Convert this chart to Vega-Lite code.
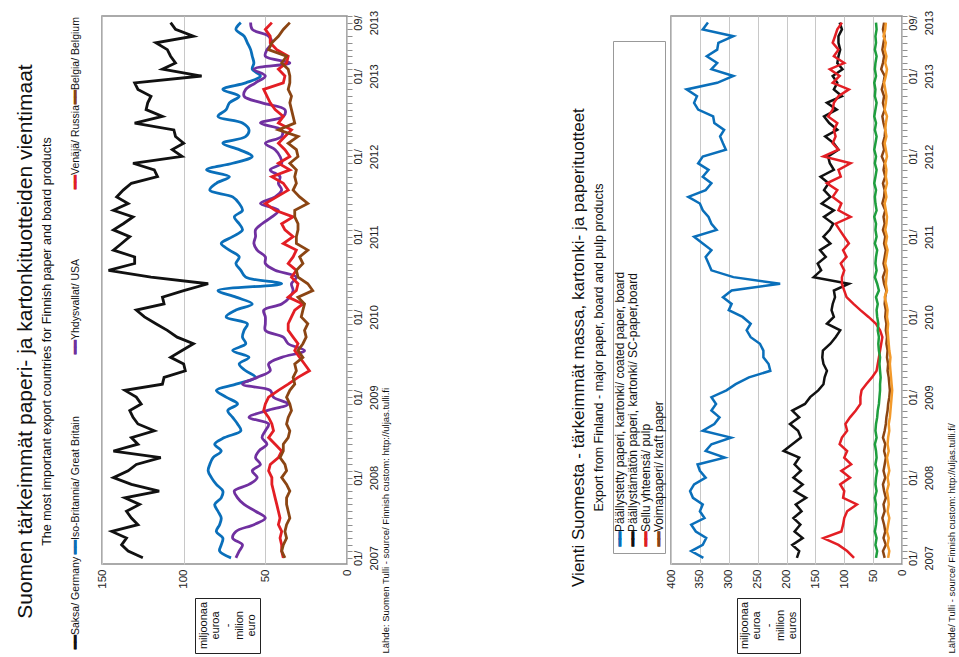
{
"$schema": "https://vega.github.io/schema/vega-lite/v6.json",
"background": "white",
"padding": {"left": 14, "top": 9, "right": 5, "bottom": 2},
"config": {"font": "Liberation Sans", "view": {"stroke": null}, "title": {"fontWeight": "normal", "color": "#111111", "subtitleColor": "#111111", "font": "Liberation Sans", "subtitleFont": "Liberation Sans"}, "axis": {"labelFont": "Liberation Sans", "labelColor": "#222222"}},
"resolve": {"scale": {"color": "independent", "stroke": "independent"}},
"spacing": 178,
"hconcat": [
{
"title": {"text": "Suomen tärkeimmät paperi- ja kartonkituotteiden vientimaat", "subtitle": "The most important export countries for Finnish paper and board products", "orient": "left", "anchor": "middle", "fontSize": 21, "subtitleFontSize": 12.5, "subtitlePadding": 5, "offset": 8, "dx": -10},
"spacing": 4,
"hconcat": [
 {"spacing": 0, "vconcat": [
  {"width": 30, "height": 88, "data": {"values": [{}]}, "layer": [
   {"mark": {"type": "text", "angle": 270, "align": "left", "baseline": "middle", "fontSize": 10.5, "color": "#111111"}, "encoding": {"y": {"value": "height"}, "text": {"value": "━━Belgia/ Belgium"}}},
   {"mark": {"type": "text", "angle": 270, "align": "left", "baseline": "middle", "fontSize": 10.5, "color": "#8b4513", "stroke": "#8b4513", "strokeWidth": 1}, "encoding": {"y": {"value": "height"}, "text": {"value": "━━"}}}]},
  {"width": 30, "height": 85, "data": {"values": [{}]}, "layer": [
   {"mark": {"type": "text", "angle": 270, "align": "left", "baseline": "middle", "fontSize": 10.5, "color": "#111111"}, "encoding": {"y": {"value": "height"}, "text": {"value": "━━Venäjä/ Russia"}}},
   {"mark": {"type": "text", "angle": 270, "align": "left", "baseline": "middle", "fontSize": 10.5, "color": "#e31e24", "stroke": "#e31e24", "strokeWidth": 1}, "encoding": {"y": {"value": "height"}, "text": {"value": "━━"}}}]},
  {"width": 30, "height": 165, "data": {"values": [{}]}, "layer": [
   {"mark": {"type": "text", "angle": 270, "align": "left", "baseline": "middle", "fontSize": 10.5, "color": "#111111"}, "encoding": {"y": {"value": "height"}, "text": {"value": "━━Yhdysvallat/ USA"}}},
   {"mark": {"type": "text", "angle": 270, "align": "left", "baseline": "middle", "fontSize": 10.5, "color": "#7030a0", "stroke": "#7030a0", "strokeWidth": 1}, "encoding": {"y": {"value": "height"}, "text": {"value": "━━"}}}]},
  {"width": 30, "height": 200, "data": {"values": [{}]}, "layer": [
   {"mark": {"type": "text", "angle": 270, "align": "left", "baseline": "middle", "fontSize": 10.5, "color": "#111111"}, "encoding": {"y": {"value": "height"}, "text": {"value": "━━Iso-Britannia/ Great Britain"}}},
   {"mark": {"type": "text", "angle": 270, "align": "left", "baseline": "middle", "fontSize": 10.5, "color": "#0a6fba", "stroke": "#0a6fba", "strokeWidth": 1}, "encoding": {"y": {"value": "height"}, "text": {"value": "━━"}}}]},
  {"width": 30, "height": 95, "data": {"values": [{}]}, "layer": [
   {"mark": {"type": "text", "angle": 270, "align": "left", "baseline": "middle", "fontSize": 10.5, "color": "#111111"}, "encoding": {"y": {"value": "height"}, "text": {"value": "━━Saksa/ Germany"}}},
   {"mark": {"type": "text", "angle": 270, "align": "left", "baseline": "middle", "fontSize": 10.5, "color": "#111111", "stroke": "#111111", "strokeWidth": 1}, "encoding": {"y": {"value": "height"}, "text": {"value": "━━"}}}]}
 ]},
 {"spacing": 8,
  "title": {"text": "Lähde: Suomen Tulli - source/ Finnish custom: http://uljas.tulli.fi", "orient": "right", "angle": 270, "anchor": "end", "align": "left", "baseline": "top", "fontSize": 9.5, "offset": -8},
  "vconcat": [
  {"width": 245, "height": 548, "view": {"stroke": "#8f8f8f", "strokeWidth": 1.5}, "data": {"name": "left"},
   "encoding": {
    "y": {"field": "t", "type": "temporal", "scale": {"domain": [{"year": 2006, "month": 12, "date": 4}, {"year": 2013, "month": 10, "date": 1}]},
      "axis": {"orient": "right", "title": null, "tickCount": {"interval": "month", "step": 1}, "labelExpr": "(month(datum.value)==0 || (year(datum.value)==2013 && month(datum.value)==8)) ? [timeFormat(datum.value,'%m/'), timeFormat(datum.value,'%Y')] : ''", "labelAngle": 270, "labelAlign": "center", "labelBaseline": "top", "labelOverlap": false, "labelFlush": false, "labelBound": false, "labelPadding": 0, "tickSize": 5, "tickColor": "#8f8f8f", "domain": false, "grid": false, "labelFontSize": 11, "labelLineHeight": 16}},
    "x": {"field": "v", "type": "quantitative", "scale": {"domain": [0, 150], "reverse": true, "nice": false, "zero": false},
      "axis": {"orient": "bottom", "title": null, "values": [0, 50, 100, 150], "labelAngle": 270, "labelAlign": "right", "labelBaseline": "middle", "ticks": false, "domain": false, "grid": true, "gridColor": "#c8c8c8", "labelFontSize": 11.5, "labelPadding": 5, "labelFlush": false}},
    "color": {"field": "s", "type": "nominal", "scale": {"domain": ["de", "gb", "us", "ru", "be"], "range": ["#111111", "#0a6fba", "#7030a0", "#e31e24", "#8b4513"]}, "legend": null},
    "order": {"field": "t", "type": "temporal"}},
   "layer": [
    {"transform": [{"filter": "datum.s=='de'"}], "mark": {"type": "line", "strokeWidth": 2.8}},
    {"transform": [{"filter": "datum.s=='gb' || datum.s=='us'"}], "mark": {"type": "line", "strokeWidth": 2.8, "interpolate": "catmull-rom"}},
    {"transform": [{"filter": "datum.s=='ru' || datum.s=='be'"}], "mark": {"type": "line", "strokeWidth": 2.8}}
   ]},
  {"spacing": 0, "hconcat": [
   {"width": 92, "height": 55, "data": {"values": [{}]}, "mark": {"type": "text"}, "encoding": {"text": {"value": ""}}},
   {"width": 65, "height": 55, "view": {"stroke": "#222222", "strokeWidth": 1}, "data": {"values": [{}]}, "mark": {"type": "text", "angle": 270, "align": "center", "baseline": "middle", "fontSize": 11, "lineHeight": 12, "dy": -24, "color": "#111111"}, "encoding": {"text": {"value": ["miljoonaa", "euroa", "-", "milion", "euro"]}}}
  ]}
 ]}
]
},
{
"title": {"text": "Vienti Suomesta - tärkeimmät massa, kartonki- ja paperituotteet", "subtitle": "Export from Finland - major paper, board and pulp products", "orient": "left", "anchor": "middle", "fontSize": 17, "subtitleFontSize": 12.5, "subtitlePadding": 5, "offset": 6, "dx": -16},
"spacing": -2,
"hconcat": [
 {"spacing": 18, "vconcat": [
  {"width": 52, "height": 1, "data": {"values": [{}]}, "mark": {"type": "text"}, "encoding": {"text": {"value": ""}}},
  {"width": 52, "height": 512, "view": {"stroke": "#999999", "strokeWidth": 1},
   "data": {"values": [{"s": "coated", "label": "Päällystetty paperi, kartonki/ coated paper, board"}, {"s": "uncoated", "label": "Päällystämätön paperi, kartonki/ SC-paper,board"}, {"s": "pulp", "label": "Sellu yhteensä/ pulp"}, {"s": "kraft", "label": "Voimapaperi/ kraft paper"}]},
   "encoding": {"x": {"field": "s", "type": "nominal", "sort": null, "scale": {"type": "point", "domain": ["coated", "uncoated", "pulp", "kraft"], "padding": 0.5}, "axis": null}, "y": {"value": "height"}},
   "layer": [
    {"transform": [{"calculate": "'━━' + datum.label", "as": "txt"}], "mark": {"type": "text", "angle": 270, "align": "left", "baseline": "middle", "fontSize": 12, "dx": 7, "color": "#111111"}, "encoding": {"text": {"field": "txt"}}},
    {"mark": {"type": "text", "angle": 270, "align": "left", "baseline": "middle", "fontSize": 12, "dx": 7, "strokeWidth": 1}, "encoding": {"text": {"value": "━━"},
      "color": {"field": "s", "type": "nominal", "scale": {"domain": ["coated", "uncoated", "pulp", "other1", "other2", "kraft"], "range": ["#0a6fba", "#111111", "#e31e24", "#1e9e3e", "#f39a2b", "#8b4513"]}, "legend": null},
      "stroke": {"field": "s", "type": "nominal", "scale": {"domain": ["coated", "uncoated", "pulp", "other1", "other2", "kraft"], "range": ["#0a6fba", "#111111", "#e31e24", "#1e9e3e", "#f39a2b", "#8b4513"]}, "legend": null}}}
   ]}
 ]},
 {"spacing": 8,
  "title": {"text": "Lähde/ Tulli - source/ Finnish custom: http://uljas.tulli.fi/", "orient": "right", "angle": 270, "anchor": "end", "align": "left", "baseline": "top", "fontSize": 9.5, "offset": 3},
  "vconcat": [
  {"width": 231, "height": 548, "view": {"stroke": "#8f8f8f", "strokeWidth": 1.5}, "data": {"name": "right"},
   "encoding": {
    "y": {"field": "t", "type": "temporal", "scale": {"domain": [{"year": 2006, "month": 12, "date": 4}, {"year": 2013, "month": 10, "date": 1}]},
      "axis": {"orient": "right", "title": null, "tickCount": {"interval": "month", "step": 1}, "labelExpr": "(month(datum.value)==0 || (year(datum.value)==2013 && month(datum.value)==8)) ? [timeFormat(datum.value,'%m/'), timeFormat(datum.value,'%Y')] : ''", "labelAngle": 270, "labelAlign": "center", "labelBaseline": "top", "labelOverlap": false, "labelFlush": false, "labelBound": false, "labelPadding": 0, "tickSize": 5, "tickColor": "#8f8f8f", "domain": false, "grid": false, "labelFontSize": 11, "labelLineHeight": 16}},
    "x": {"field": "v", "type": "quantitative", "scale": {"domain": [0, 400], "reverse": true, "nice": false, "zero": false},
      "axis": {"orient": "bottom", "title": null, "values": [0, 50, 100, 150, 200, 250, 300, 350, 400], "labelAngle": 270, "labelAlign": "right", "labelBaseline": "middle", "ticks": false, "domain": false, "grid": true, "gridColor": "#c8c8c8", "labelFontSize": 11.5, "labelPadding": 5, "labelFlush": false}},
    "color": {"field": "s", "type": "nominal", "scale": {"domain": ["coated", "uncoated", "pulp", "other1", "other2", "kraft"], "range": ["#0a6fba", "#111111", "#e31e24", "#1e9e3e", "#f39a2b", "#8b4513"]}, "legend": null},
    "order": {"field": "t", "type": "temporal"}},
   "layer": [
    {"mark": {"type": "line", "strokeWidth": 2.5}}
   ]},
  {"spacing": 0, "hconcat": [
   {"width": 65, "height": 55, "data": {"values": [{}]}, "mark": {"type": "text"}, "encoding": {"text": {"value": ""}}},
   {"width": 63, "height": 55, "view": {"stroke": "#222222", "strokeWidth": 1}, "data": {"values": [{}]}, "mark": {"type": "text", "angle": 270, "align": "center", "baseline": "middle", "fontSize": 11, "lineHeight": 12, "dy": -24, "color": "#111111"}, "encoding": {"text": {"value": ["miljoonaa", "euroa", "-", "million", "euros"]}}}
  ]}
 ]}
]
}
],
"datasets": {
"left": [
{"t":"2007-01","s":"de","v":125},{"t":"2007-02","s":"de","v":134},{"t":"2007-03","s":"de","v":138},{"t":"2007-04","s":"de","v":135},{"t":"2007-05","s":"de","v":144},{"t":"2007-06","s":"de","v":128},{"t":"2007-07","s":"de","v":132},{"t":"2007-08","s":"de","v":135},{"t":"2007-09","s":"de","v":127},{"t":"2007-10","s":"de","v":136},{"t":"2007-11","s":"de","v":115},{"t":"2007-12","s":"de","v":132},
{"t":"2008-01","s":"de","v":143},{"t":"2008-02","s":"de","v":134},{"t":"2008-03","s":"de","v":129},{"t":"2008-04","s":"de","v":114},{"t":"2008-05","s":"de","v":143},{"t":"2008-06","s":"de","v":128},{"t":"2008-07","s":"de","v":132},{"t":"2008-08","s":"de","v":118},{"t":"2008-09","s":"de","v":128},{"t":"2008-10","s":"de","v":131},{"t":"2008-11","s":"de","v":133},{"t":"2008-12","s":"de","v":126},
{"t":"2009-01","s":"de","v":129},{"t":"2009-02","s":"de","v":136},{"t":"2009-03","s":"de","v":113},{"t":"2009-04","s":"de","v":112},{"t":"2009-05","s":"de","v":99},{"t":"2009-06","s":"de","v":100},{"t":"2009-07","s":"de","v":108},{"t":"2009-08","s":"de","v":101},{"t":"2009-09","s":"de","v":94},{"t":"2009-10","s":"de","v":104},{"t":"2009-11","s":"de","v":110},{"t":"2009-12","s":"de","v":117},
{"t":"2010-01","s":"de","v":124},{"t":"2010-02","s":"de","v":129},{"t":"2010-03","s":"de","v":112},{"t":"2010-04","s":"de","v":113},{"t":"2010-05","s":"de","v":100},{"t":"2010-06","s":"de","v":85},{"t":"2010-07","s":"de","v":120},{"t":"2010-08","s":"de","v":146},{"t":"2010-09","s":"de","v":130},{"t":"2010-10","s":"de","v":130},{"t":"2010-11","s":"de","v":143},{"t":"2010-12","s":"de","v":138},
{"t":"2011-01","s":"de","v":133},{"t":"2011-02","s":"de","v":143},{"t":"2011-03","s":"de","v":137},{"t":"2011-04","s":"de","v":131},{"t":"2011-05","s":"de","v":143},{"t":"2011-06","s":"de","v":134},{"t":"2011-07","s":"de","v":141},{"t":"2011-08","s":"de","v":137},{"t":"2011-09","s":"de","v":132},{"t":"2011-10","s":"de","v":116},{"t":"2011-11","s":"de","v":118},{"t":"2011-12","s":"de","v":131},
{"t":"2012-01","s":"de","v":101},{"t":"2012-02","s":"de","v":107},{"t":"2012-03","s":"de","v":100},{"t":"2012-04","s":"de","v":105},{"t":"2012-05","s":"de","v":106},{"t":"2012-06","s":"de","v":130},{"t":"2012-07","s":"de","v":113},{"t":"2012-08","s":"de","v":123},{"t":"2012-09","s":"de","v":122},{"t":"2012-10","s":"de","v":120},{"t":"2012-11","s":"de","v":128},{"t":"2012-12","s":"de","v":130},
{"t":"2013-01","s":"de","v":89},{"t":"2013-02","s":"de","v":113},{"t":"2013-03","s":"de","v":105},{"t":"2013-04","s":"de","v":108},{"t":"2013-05","s":"de","v":110},{"t":"2013-06","s":"de","v":117},{"t":"2013-07","s":"de","v":94},{"t":"2013-08","s":"de","v":105},{"t":"2013-09","s":"de","v":108},
{"t":"2007-01","s":"gb","v":71},{"t":"2007-02","s":"gb","v":78},{"t":"2007-03","s":"gb","v":77},{"t":"2007-04","s":"gb","v":76},{"t":"2007-05","s":"gb","v":80},{"t":"2007-06","s":"gb","v":78},{"t":"2007-07","s":"gb","v":77},{"t":"2007-08","s":"gb","v":79},{"t":"2007-09","s":"gb","v":81},{"t":"2007-10","s":"gb","v":77},{"t":"2007-11","s":"gb","v":76},{"t":"2007-12","s":"gb","v":80},
{"t":"2008-01","s":"gb","v":83},{"t":"2008-02","s":"gb","v":85},{"t":"2008-03","s":"gb","v":84},{"t":"2008-04","s":"gb","v":82},{"t":"2008-05","s":"gb","v":77},{"t":"2008-06","s":"gb","v":81},{"t":"2008-07","s":"gb","v":75},{"t":"2008-08","s":"gb","v":65},{"t":"2008-09","s":"gb","v":67},{"t":"2008-10","s":"gb","v":70},{"t":"2008-11","s":"gb","v":73},{"t":"2008-12","s":"gb","v":67},
{"t":"2009-01","s":"gb","v":74},{"t":"2009-02","s":"gb","v":80},{"t":"2009-03","s":"gb","v":68},{"t":"2009-04","s":"gb","v":56},{"t":"2009-05","s":"gb","v":62},{"t":"2009-06","s":"gb","v":66},{"t":"2009-07","s":"gb","v":60},{"t":"2009-08","s":"gb","v":70},{"t":"2009-09","s":"gb","v":62},{"t":"2009-10","s":"gb","v":64},{"t":"2009-11","s":"gb","v":63},{"t":"2009-12","s":"gb","v":61},
{"t":"2010-01","s":"gb","v":74},{"t":"2010-02","s":"gb","v":68},{"t":"2010-03","s":"gb","v":58},{"t":"2010-04","s":"gb","v":68},{"t":"2010-05","s":"gb","v":79},{"t":"2010-06","s":"gb","v":40},{"t":"2010-07","s":"gb","v":62},{"t":"2010-08","s":"gb","v":65},{"t":"2010-09","s":"gb","v":68},{"t":"2010-10","s":"gb","v":66},{"t":"2010-11","s":"gb","v":72},{"t":"2010-12","s":"gb","v":77},
{"t":"2011-01","s":"gb","v":70},{"t":"2011-02","s":"gb","v":64},{"t":"2011-03","s":"gb","v":66},{"t":"2011-04","s":"gb","v":69},{"t":"2011-05","s":"gb","v":64},{"t":"2011-06","s":"gb","v":66},{"t":"2011-07","s":"gb","v":70},{"t":"2011-08","s":"gb","v":84},{"t":"2011-09","s":"gb","v":80},{"t":"2011-10","s":"gb","v":72},{"t":"2011-11","s":"gb","v":86},{"t":"2011-12","s":"gb","v":70},
{"t":"2012-01","s":"gb","v":58},{"t":"2012-02","s":"gb","v":66},{"t":"2012-03","s":"gb","v":76},{"t":"2012-04","s":"gb","v":62},{"t":"2012-05","s":"gb","v":60},{"t":"2012-06","s":"gb","v":64},{"t":"2012-07","s":"gb","v":79},{"t":"2012-08","s":"gb","v":74},{"t":"2012-09","s":"gb","v":72},{"t":"2012-10","s":"gb","v":66},{"t":"2012-11","s":"gb","v":76},{"t":"2012-12","s":"gb","v":62},
{"t":"2013-01","s":"gb","v":53},{"t":"2013-02","s":"gb","v":58},{"t":"2013-03","s":"gb","v":57},{"t":"2013-04","s":"gb","v":58},{"t":"2013-05","s":"gb","v":59},{"t":"2013-06","s":"gb","v":61},{"t":"2013-07","s":"gb","v":63},{"t":"2013-08","s":"gb","v":68},{"t":"2013-09","s":"gb","v":65},
{"t":"2007-01","s":"us","v":68},{"t":"2007-02","s":"us","v":66},{"t":"2007-03","s":"us","v":64},{"t":"2007-04","s":"us","v":70},{"t":"2007-05","s":"us","v":68},{"t":"2007-06","s":"us","v":57},{"t":"2007-07","s":"us","v":50},{"t":"2007-08","s":"us","v":56},{"t":"2007-09","s":"us","v":63},{"t":"2007-10","s":"us","v":67},{"t":"2007-11","s":"us","v":69},{"t":"2007-12","s":"us","v":60},
{"t":"2008-01","s":"us","v":55},{"t":"2008-02","s":"us","v":58},{"t":"2008-03","s":"us","v":53},{"t":"2008-04","s":"us","v":56},{"t":"2008-05","s":"us","v":54},{"t":"2008-06","s":"us","v":49},{"t":"2008-07","s":"us","v":52},{"t":"2008-08","s":"us","v":50},{"t":"2008-09","s":"us","v":48},{"t":"2008-10","s":"us","v":60},{"t":"2008-11","s":"us","v":49},{"t":"2008-12","s":"us","v":36},
{"t":"2009-01","s":"us","v":45},{"t":"2009-02","s":"us","v":47},{"t":"2009-03","s":"us","v":64},{"t":"2009-04","s":"us","v":55},{"t":"2009-05","s":"us","v":47},{"t":"2009-06","s":"us","v":48},{"t":"2009-07","s":"us","v":40},{"t":"2009-08","s":"us","v":26},{"t":"2009-09","s":"us","v":36},{"t":"2009-10","s":"us","v":39},{"t":"2009-11","s":"us","v":50},{"t":"2009-12","s":"us","v":50},
{"t":"2010-01","s":"us","v":50},{"t":"2010-02","s":"us","v":51},{"t":"2010-03","s":"us","v":40},{"t":"2010-04","s":"us","v":35},{"t":"2010-05","s":"us","v":33},{"t":"2010-06","s":"us","v":34},{"t":"2010-07","s":"us","v":31},{"t":"2010-08","s":"us","v":44},{"t":"2010-09","s":"us","v":50},{"t":"2010-10","s":"us","v":50},{"t":"2010-11","s":"us","v":55},{"t":"2010-12","s":"us","v":57},
{"t":"2011-01","s":"us","v":56},{"t":"2011-02","s":"us","v":56},{"t":"2011-03","s":"us","v":52},{"t":"2011-04","s":"us","v":46},{"t":"2011-05","s":"us","v":42},{"t":"2011-06","s":"us","v":53},{"t":"2011-07","s":"us","v":44},{"t":"2011-08","s":"us","v":40},{"t":"2011-09","s":"us","v":42},{"t":"2011-10","s":"us","v":41},{"t":"2011-11","s":"us","v":47},{"t":"2011-12","s":"us","v":40},
{"t":"2012-01","s":"us","v":41},{"t":"2012-02","s":"us","v":44},{"t":"2012-03","s":"us","v":50},{"t":"2012-04","s":"us","v":40},{"t":"2012-05","s":"us","v":40},{"t":"2012-06","s":"us","v":53},{"t":"2012-07","s":"us","v":39},{"t":"2012-08","s":"us","v":38},{"t":"2012-09","s":"us","v":52},{"t":"2012-10","s":"us","v":63},{"t":"2012-11","s":"us","v":62},{"t":"2012-12","s":"us","v":56},
{"t":"2013-01","s":"us","v":50},{"t":"2013-02","s":"us","v":57},{"t":"2013-03","s":"us","v":35},{"t":"2013-04","s":"us","v":50},{"t":"2013-05","s":"us","v":49},{"t":"2013-06","s":"us","v":46},{"t":"2013-07","s":"us","v":48},{"t":"2013-08","s":"us","v":58},{"t":"2013-09","s":"us","v":59},
{"t":"2007-01","s":"ru","v":39},{"t":"2007-02","s":"ru","v":40},{"t":"2007-03","s":"ru","v":40},{"t":"2007-04","s":"ru","v":41},{"t":"2007-05","s":"ru","v":40},{"t":"2007-06","s":"ru","v":42},{"t":"2007-07","s":"ru","v":41},{"t":"2007-08","s":"ru","v":42},{"t":"2007-09","s":"ru","v":43},{"t":"2007-10","s":"ru","v":44},{"t":"2007-11","s":"ru","v":45},{"t":"2007-12","s":"ru","v":46},
{"t":"2008-01","s":"ru","v":46},{"t":"2008-02","s":"ru","v":48},{"t":"2008-03","s":"ru","v":47},{"t":"2008-04","s":"ru","v":42},{"t":"2008-05","s":"ru","v":40},{"t":"2008-06","s":"ru","v":44},{"t":"2008-07","s":"ru","v":48},{"t":"2008-08","s":"ru","v":45},{"t":"2008-09","s":"ru","v":46},{"t":"2008-10","s":"ru","v":48},{"t":"2008-11","s":"ru","v":51},{"t":"2008-12","s":"ru","v":50},
{"t":"2009-01","s":"ru","v":48},{"t":"2009-02","s":"ru","v":42},{"t":"2009-03","s":"ru","v":36},{"t":"2009-04","s":"ru","v":30},{"t":"2009-05","s":"ru","v":23},{"t":"2009-06","s":"ru","v":26},{"t":"2009-07","s":"ru","v":29},{"t":"2009-08","s":"ru","v":32},{"t":"2009-09","s":"ru","v":30},{"t":"2009-10","s":"ru","v":33},{"t":"2009-11","s":"ru","v":36},{"t":"2009-12","s":"ru","v":36},
{"t":"2010-01","s":"ru","v":34},{"t":"2010-02","s":"ru","v":32},{"t":"2010-03","s":"ru","v":27},{"t":"2010-04","s":"ru","v":36},{"t":"2010-05","s":"ru","v":31},{"t":"2010-06","s":"ru","v":30},{"t":"2010-07","s":"ru","v":34},{"t":"2010-08","s":"ru","v":31},{"t":"2010-09","s":"ru","v":36},{"t":"2010-10","s":"ru","v":33},{"t":"2010-11","s":"ru","v":31},{"t":"2010-12","s":"ru","v":39},
{"t":"2011-01","s":"ru","v":33},{"t":"2011-02","s":"ru","v":38},{"t":"2011-03","s":"ru","v":40},{"t":"2011-04","s":"ru","v":33},{"t":"2011-05","s":"ru","v":44},{"t":"2011-06","s":"ru","v":50},{"t":"2011-07","s":"ru","v":43},{"t":"2011-08","s":"ru","v":36},{"t":"2011-09","s":"ru","v":39},{"t":"2011-10","s":"ru","v":46},{"t":"2011-11","s":"ru","v":35},{"t":"2011-12","s":"ru","v":42},
{"t":"2012-01","s":"ru","v":35},{"t":"2012-02","s":"ru","v":38},{"t":"2012-03","s":"ru","v":42},{"t":"2012-04","s":"ru","v":38},{"t":"2012-05","s":"ru","v":34},{"t":"2012-06","s":"ru","v":42},{"t":"2012-07","s":"ru","v":39},{"t":"2012-08","s":"ru","v":44},{"t":"2012-09","s":"ru","v":47},{"t":"2012-10","s":"ru","v":49},{"t":"2012-11","s":"ru","v":51},{"t":"2012-12","s":"ru","v":39},
{"t":"2013-01","s":"ru","v":38},{"t":"2013-02","s":"ru","v":42},{"t":"2013-03","s":"ru","v":37},{"t":"2013-04","s":"ru","v":36},{"t":"2013-05","s":"ru","v":43},{"t":"2013-06","s":"ru","v":47},{"t":"2013-07","s":"ru","v":47},{"t":"2013-08","s":"ru","v":50},{"t":"2013-09","s":"ru","v":46},
{"t":"2007-01","s":"be","v":38},{"t":"2007-02","s":"be","v":40},{"t":"2007-03","s":"be","v":39},{"t":"2007-04","s":"be","v":37},{"t":"2007-05","s":"be","v":38},{"t":"2007-06","s":"be","v":37},{"t":"2007-07","s":"be","v":35},{"t":"2007-08","s":"be","v":36},{"t":"2007-09","s":"be","v":37},{"t":"2007-10","s":"be","v":37},{"t":"2007-11","s":"be","v":35},{"t":"2007-12","s":"be","v":37},
{"t":"2008-01","s":"be","v":40},{"t":"2008-02","s":"be","v":37},{"t":"2008-03","s":"be","v":38},{"t":"2008-04","s":"be","v":41},{"t":"2008-05","s":"be","v":39},{"t":"2008-06","s":"be","v":39},{"t":"2008-07","s":"be","v":36},{"t":"2008-08","s":"be","v":35},{"t":"2008-09","s":"be","v":37},{"t":"2008-10","s":"be","v":36},{"t":"2008-11","s":"be","v":34},{"t":"2008-12","s":"be","v":35},
{"t":"2009-01","s":"be","v":37},{"t":"2009-02","s":"be","v":35},{"t":"2009-03","s":"be","v":32},{"t":"2009-04","s":"be","v":33},{"t":"2009-05","s":"be","v":31},{"t":"2009-06","s":"be","v":32},{"t":"2009-07","s":"be","v":27},{"t":"2009-08","s":"be","v":30},{"t":"2009-09","s":"be","v":27},{"t":"2009-10","s":"be","v":25},{"t":"2009-11","s":"be","v":26},{"t":"2009-12","s":"be","v":24},
{"t":"2010-01","s":"be","v":28},{"t":"2010-02","s":"be","v":27},{"t":"2010-03","s":"be","v":26},{"t":"2010-04","s":"be","v":30},{"t":"2010-05","s":"be","v":21},{"t":"2010-06","s":"be","v":24},{"t":"2010-07","s":"be","v":30},{"t":"2010-08","s":"be","v":31},{"t":"2010-09","s":"be","v":27},{"t":"2010-10","s":"be","v":29},{"t":"2010-11","s":"be","v":24},{"t":"2010-12","s":"be","v":31},
{"t":"2011-01","s":"be","v":31},{"t":"2011-02","s":"be","v":30},{"t":"2011-03","s":"be","v":30},{"t":"2011-04","s":"be","v":32},{"t":"2011-05","s":"be","v":32},{"t":"2011-06","s":"be","v":24},{"t":"2011-07","s":"be","v":29},{"t":"2011-08","s":"be","v":33},{"t":"2011-09","s":"be","v":31},{"t":"2011-10","s":"be","v":32},{"t":"2011-11","s":"be","v":31},{"t":"2011-12","s":"be","v":35},
{"t":"2012-01","s":"be","v":30},{"t":"2012-02","s":"be","v":31},{"t":"2012-03","s":"be","v":36},{"t":"2012-04","s":"be","v":30},{"t":"2012-05","s":"be","v":42},{"t":"2012-06","s":"be","v":32},{"t":"2012-07","s":"be","v":33},{"t":"2012-08","s":"be","v":34},{"t":"2012-09","s":"be","v":35},{"t":"2012-10","s":"be","v":34},{"t":"2012-11","s":"be","v":36},{"t":"2012-12","s":"be","v":35},
{"t":"2013-01","s":"be","v":35},{"t":"2013-02","s":"be","v":36},{"t":"2013-03","s":"be","v":40},{"t":"2013-04","s":"be","v":37},{"t":"2013-05","s":"be","v":48},{"t":"2013-06","s":"be","v":46},{"t":"2013-07","s":"be","v":42},{"t":"2013-08","s":"be","v":39},{"t":"2013-09","s":"be","v":35}
],
"right": [
{"t":"2007-01","s":"coated","v":344},{"t":"2007-02","s":"coated","v":365},{"t":"2007-03","s":"coated","v":345},{"t":"2007-04","s":"coated","v":339},{"t":"2007-05","s":"coated","v":357},{"t":"2007-06","s":"coated","v":365},{"t":"2007-07","s":"coated","v":342},{"t":"2007-08","s":"coated","v":350},{"t":"2007-09","s":"coated","v":345},{"t":"2007-10","s":"coated","v":362},{"t":"2007-11","s":"coated","v":367},{"t":"2007-12","s":"coated","v":360},
{"t":"2008-01","s":"coated","v":340},{"t":"2008-02","s":"coated","v":350},{"t":"2008-03","s":"coated","v":354},{"t":"2008-04","s":"coated","v":307},{"t":"2008-05","s":"coated","v":340},{"t":"2008-06","s":"coated","v":330},{"t":"2008-07","s":"coated","v":296},{"t":"2008-08","s":"coated","v":345},{"t":"2008-09","s":"coated","v":325},{"t":"2008-10","s":"coated","v":316},{"t":"2008-11","s":"coated","v":330},{"t":"2008-12","s":"coated","v":322},
{"t":"2009-01","s":"coated","v":330},{"t":"2009-02","s":"coated","v":304},{"t":"2009-03","s":"coated","v":288},{"t":"2009-04","s":"coated","v":265},{"t":"2009-05","s":"coated","v":228},{"t":"2009-06","s":"coated","v":231},{"t":"2009-07","s":"coated","v":240},{"t":"2009-08","s":"coated","v":240},{"t":"2009-09","s":"coated","v":246},{"t":"2009-10","s":"coated","v":262},{"t":"2009-11","s":"coated","v":269},{"t":"2009-12","s":"coated","v":262},
{"t":"2010-01","s":"coated","v":276},{"t":"2010-02","s":"coated","v":300},{"t":"2010-03","s":"coated","v":295},{"t":"2010-04","s":"coated","v":310},{"t":"2010-05","s":"coated","v":295},{"t":"2010-06","s":"coated","v":211},{"t":"2010-07","s":"coated","v":292},{"t":"2010-08","s":"coated","v":330},{"t":"2010-09","s":"coated","v":335},{"t":"2010-10","s":"coated","v":340},{"t":"2010-11","s":"coated","v":330},{"t":"2010-12","s":"coated","v":345},
{"t":"2011-01","s":"coated","v":360},{"t":"2011-02","s":"coated","v":321},{"t":"2011-03","s":"coated","v":330},{"t":"2011-04","s":"coated","v":335},{"t":"2011-05","s":"coated","v":345},{"t":"2011-06","s":"coated","v":350},{"t":"2011-07","s":"coated","v":370},{"t":"2011-08","s":"coated","v":340},{"t":"2011-09","s":"coated","v":330},{"t":"2011-10","s":"coated","v":345},{"t":"2011-11","s":"coated","v":335},{"t":"2011-12","s":"coated","v":353},
{"t":"2012-01","s":"coated","v":345},{"t":"2012-02","s":"coated","v":305},{"t":"2012-03","s":"coated","v":310},{"t":"2012-04","s":"coated","v":315},{"t":"2012-05","s":"coated","v":308},{"t":"2012-06","s":"coated","v":325},{"t":"2012-07","s":"coated","v":327},{"t":"2012-08","s":"coated","v":353},{"t":"2012-09","s":"coated","v":360},{"t":"2012-10","s":"coated","v":355},{"t":"2012-11","s":"coated","v":373},{"t":"2012-12","s":"coated","v":320},
{"t":"2013-01","s":"coated","v":292},{"t":"2013-02","s":"coated","v":330},{"t":"2013-03","s":"coated","v":320},{"t":"2013-04","s":"coated","v":338},{"t":"2013-05","s":"coated","v":320},{"t":"2013-06","s":"coated","v":318},{"t":"2013-07","s":"coated","v":292},{"t":"2013-08","s":"coated","v":345},{"t":"2013-09","s":"coated","v":336},
{"t":"2007-01","s":"uncoated","v":182},{"t":"2007-02","s":"uncoated","v":178},{"t":"2007-03","s":"uncoated","v":190},{"t":"2007-04","s":"uncoated","v":172},{"t":"2007-05","s":"uncoated","v":186},{"t":"2007-06","s":"uncoated","v":176},{"t":"2007-07","s":"uncoated","v":188},{"t":"2007-08","s":"uncoated","v":174},{"t":"2007-09","s":"uncoated","v":184},{"t":"2007-10","s":"uncoated","v":166},{"t":"2007-11","s":"uncoated","v":186},{"t":"2007-12","s":"uncoated","v":172},
{"t":"2008-01","s":"uncoated","v":188},{"t":"2008-02","s":"uncoated","v":175},{"t":"2008-03","s":"uncoated","v":186},{"t":"2008-04","s":"uncoated","v":178},{"t":"2008-05","s":"uncoated","v":205},{"t":"2008-06","s":"uncoated","v":190},{"t":"2008-07","s":"uncoated","v":175},{"t":"2008-08","s":"uncoated","v":180},{"t":"2008-09","s":"uncoated","v":194},{"t":"2008-10","s":"uncoated","v":178},{"t":"2008-11","s":"uncoated","v":190},{"t":"2008-12","s":"uncoated","v":168},
{"t":"2009-01","s":"uncoated","v":159},{"t":"2009-02","s":"uncoated","v":145},{"t":"2009-03","s":"uncoated","v":136},{"t":"2009-04","s":"uncoated","v":134},{"t":"2009-05","s":"uncoated","v":130},{"t":"2009-06","s":"uncoated","v":136},{"t":"2009-07","s":"uncoated","v":138},{"t":"2009-08","s":"uncoated","v":137},{"t":"2009-09","s":"uncoated","v":124},{"t":"2009-10","s":"uncoated","v":115},{"t":"2009-11","s":"uncoated","v":107},{"t":"2009-12","s":"uncoated","v":130},
{"t":"2010-01","s":"uncoated","v":118},{"t":"2010-02","s":"uncoated","v":122},{"t":"2010-03","s":"uncoated","v":120},{"t":"2010-04","s":"uncoated","v":116},{"t":"2010-05","s":"uncoated","v":118},{"t":"2010-06","s":"uncoated","v":92},{"t":"2010-07","s":"uncoated","v":153},{"t":"2010-08","s":"uncoated","v":140},{"t":"2010-09","s":"uncoated","v":146},{"t":"2010-10","s":"uncoated","v":132},{"t":"2010-11","s":"uncoated","v":142},{"t":"2010-12","s":"uncoated","v":124},
{"t":"2011-01","s":"uncoated","v":136},{"t":"2011-02","s":"uncoated","v":125},{"t":"2011-03","s":"uncoated","v":119},{"t":"2011-04","s":"uncoated","v":135},{"t":"2011-05","s":"uncoated","v":118},{"t":"2011-06","s":"uncoated","v":139},{"t":"2011-07","s":"uncoated","v":124},{"t":"2011-08","s":"uncoated","v":135},{"t":"2011-09","s":"uncoated","v":127},{"t":"2011-10","s":"uncoated","v":141},{"t":"2011-11","s":"uncoated","v":118},{"t":"2011-12","s":"uncoated","v":125},
{"t":"2012-01","s":"uncoated","v":128},{"t":"2012-02","s":"uncoated","v":110},{"t":"2012-03","s":"uncoated","v":118},{"t":"2012-04","s":"uncoated","v":133},{"t":"2012-05","s":"uncoated","v":112},{"t":"2012-06","s":"uncoated","v":126},{"t":"2012-07","s":"uncoated","v":135},{"t":"2012-08","s":"uncoated","v":113},{"t":"2012-09","s":"uncoated","v":130},{"t":"2012-10","s":"uncoated","v":104},{"t":"2012-11","s":"uncoated","v":118},{"t":"2012-12","s":"uncoated","v":112},
{"t":"2013-01","s":"uncoated","v":120},{"t":"2013-02","s":"uncoated","v":103},{"t":"2013-03","s":"uncoated","v":112},{"t":"2013-04","s":"uncoated","v":110},{"t":"2013-05","s":"uncoated","v":107},{"t":"2013-06","s":"uncoated","v":110},{"t":"2013-07","s":"uncoated","v":110},{"t":"2013-08","s":"uncoated","v":104},{"t":"2013-09","s":"uncoated","v":108},
{"t":"2007-01","s":"pulp","v":83},{"t":"2007-02","s":"pulp","v":95},{"t":"2007-03","s":"pulp","v":110},{"t":"2007-04","s":"pulp","v":136},{"t":"2007-05","s":"pulp","v":105},{"t":"2007-06","s":"pulp","v":102},{"t":"2007-07","s":"pulp","v":100},{"t":"2007-08","s":"pulp","v":95},{"t":"2007-09","s":"pulp","v":78},{"t":"2007-10","s":"pulp","v":102},{"t":"2007-11","s":"pulp","v":100},{"t":"2007-12","s":"pulp","v":107},
{"t":"2008-01","s":"pulp","v":90},{"t":"2008-02","s":"pulp","v":105},{"t":"2008-03","s":"pulp","v":88},{"t":"2008-04","s":"pulp","v":100},{"t":"2008-05","s":"pulp","v":95},{"t":"2008-06","s":"pulp","v":108},{"t":"2008-07","s":"pulp","v":104},{"t":"2008-08","s":"pulp","v":95},{"t":"2008-09","s":"pulp","v":98},{"t":"2008-10","s":"pulp","v":90},{"t":"2008-11","s":"pulp","v":80},{"t":"2008-12","s":"pulp","v":72},
{"t":"2009-01","s":"pulp","v":72},{"t":"2009-02","s":"pulp","v":70},{"t":"2009-03","s":"pulp","v":62},{"t":"2009-04","s":"pulp","v":52},{"t":"2009-05","s":"pulp","v":44},{"t":"2009-06","s":"pulp","v":42},{"t":"2009-07","s":"pulp","v":40},{"t":"2009-08","s":"pulp","v":38},{"t":"2009-09","s":"pulp","v":36},{"t":"2009-10","s":"pulp","v":34},{"t":"2009-11","s":"pulp","v":38},{"t":"2009-12","s":"pulp","v":45},
{"t":"2010-01","s":"pulp","v":58},{"t":"2010-02","s":"pulp","v":72},{"t":"2010-03","s":"pulp","v":84},{"t":"2010-04","s":"pulp","v":96},{"t":"2010-05","s":"pulp","v":100},{"t":"2010-06","s":"pulp","v":104},{"t":"2010-07","s":"pulp","v":104},{"t":"2010-08","s":"pulp","v":100},{"t":"2010-09","s":"pulp","v":106},{"t":"2010-10","s":"pulp","v":96},{"t":"2010-11","s":"pulp","v":102},{"t":"2010-12","s":"pulp","v":92},
{"t":"2011-01","s":"pulp","v":100},{"t":"2011-02","s":"pulp","v":108},{"t":"2011-03","s":"pulp","v":115},{"t":"2011-04","s":"pulp","v":89},{"t":"2011-05","s":"pulp","v":110},{"t":"2011-06","s":"pulp","v":105},{"t":"2011-07","s":"pulp","v":120},{"t":"2011-08","s":"pulp","v":112},{"t":"2011-09","s":"pulp","v":130},{"t":"2011-10","s":"pulp","v":106},{"t":"2011-11","s":"pulp","v":110},{"t":"2011-12","s":"pulp","v":89},
{"t":"2012-01","s":"pulp","v":136},{"t":"2012-02","s":"pulp","v":110},{"t":"2012-03","s":"pulp","v":120},{"t":"2012-04","s":"pulp","v":115},{"t":"2012-05","s":"pulp","v":118},{"t":"2012-06","s":"pulp","v":112},{"t":"2012-07","s":"pulp","v":128},{"t":"2012-08","s":"pulp","v":120},{"t":"2012-09","s":"pulp","v":118},{"t":"2012-10","s":"pulp","v":110},{"t":"2012-11","s":"pulp","v":92},{"t":"2012-12","s":"pulp","v":120},
{"t":"2013-01","s":"pulp","v":108},{"t":"2013-02","s":"pulp","v":125},{"t":"2013-03","s":"pulp","v":100},{"t":"2013-04","s":"pulp","v":118},{"t":"2013-05","s":"pulp","v":110},{"t":"2013-06","s":"pulp","v":120},{"t":"2013-07","s":"pulp","v":116},{"t":"2013-08","s":"pulp","v":112},{"t":"2013-09","s":"pulp","v":104},
{"t":"2007-01","s":"other1","v":45},{"t":"2007-02","s":"other1","v":43},{"t":"2007-03","s":"other1","v":46},{"t":"2007-04","s":"other1","v":44},{"t":"2007-05","s":"other1","v":47},{"t":"2007-06","s":"other1","v":45},{"t":"2007-07","s":"other1","v":44},{"t":"2007-08","s":"other1","v":46},{"t":"2007-09","s":"other1","v":45},{"t":"2007-10","s":"other1","v":47},{"t":"2007-11","s":"other1","v":44},{"t":"2007-12","s":"other1","v":46},
{"t":"2008-01","s":"other1","v":45},{"t":"2008-02","s":"other1","v":43},{"t":"2008-03","s":"other1","v":46},{"t":"2008-04","s":"other1","v":44},{"t":"2008-05","s":"other1","v":45},{"t":"2008-06","s":"other1","v":47},{"t":"2008-07","s":"other1","v":44},{"t":"2008-08","s":"other1","v":46},{"t":"2008-09","s":"other1","v":45},{"t":"2008-10","s":"other1","v":43},{"t":"2008-11","s":"other1","v":42},{"t":"2008-12","s":"other1","v":40},
{"t":"2009-01","s":"other1","v":39},{"t":"2009-02","s":"other1","v":38},{"t":"2009-03","s":"other1","v":38},{"t":"2009-04","s":"other1","v":37},{"t":"2009-05","s":"other1","v":38},{"t":"2009-06","s":"other1","v":39},{"t":"2009-07","s":"other1","v":38},{"t":"2009-08","s":"other1","v":40},{"t":"2009-09","s":"other1","v":41},{"t":"2009-10","s":"other1","v":40},{"t":"2009-11","s":"other1","v":42},{"t":"2009-12","s":"other1","v":41},
{"t":"2010-01","s":"other1","v":43},{"t":"2010-02","s":"other1","v":44},{"t":"2010-03","s":"other1","v":42},{"t":"2010-04","s":"other1","v":45},{"t":"2010-05","s":"other1","v":40},{"t":"2010-06","s":"other1","v":43},{"t":"2010-07","s":"other1","v":47},{"t":"2010-08","s":"other1","v":44},{"t":"2010-09","s":"other1","v":46},{"t":"2010-10","s":"other1","v":45},{"t":"2010-11","s":"other1","v":43},{"t":"2010-12","s":"other1","v":47},
{"t":"2011-01","s":"other1","v":44},{"t":"2011-02","s":"other1","v":46},{"t":"2011-03","s":"other1","v":45},{"t":"2011-04","s":"other1","v":48},{"t":"2011-05","s":"other1","v":44},{"t":"2011-06","s":"other1","v":46},{"t":"2011-07","s":"other1","v":47},{"t":"2011-08","s":"other1","v":45},{"t":"2011-09","s":"other1","v":48},{"t":"2011-10","s":"other1","v":46},{"t":"2011-11","s":"other1","v":44},{"t":"2011-12","s":"other1","v":47},
{"t":"2012-01","s":"other1","v":45},{"t":"2012-02","s":"other1","v":48},{"t":"2012-03","s":"other1","v":46},{"t":"2012-04","s":"other1","v":44},{"t":"2012-05","s":"other1","v":47},{"t":"2012-06","s":"other1","v":45},{"t":"2012-07","s":"other1","v":48},{"t":"2012-08","s":"other1","v":46},{"t":"2012-09","s":"other1","v":44},{"t":"2012-10","s":"other1","v":47},{"t":"2012-11","s":"other1","v":46},{"t":"2012-12","s":"other1","v":48},
{"t":"2013-01","s":"other1","v":45},{"t":"2013-02","s":"other1","v":47},{"t":"2013-03","s":"other1","v":46},{"t":"2013-04","s":"other1","v":44},{"t":"2013-05","s":"other1","v":47},{"t":"2013-06","s":"other1","v":45},{"t":"2013-07","s":"other1","v":46},{"t":"2013-08","s":"other1","v":44},{"t":"2013-09","s":"other1","v":45},
{"t":"2007-01","s":"kraft","v":30},{"t":"2007-02","s":"kraft","v":33},{"t":"2007-03","s":"kraft","v":28},{"t":"2007-04","s":"kraft","v":32},{"t":"2007-05","s":"kraft","v":29},{"t":"2007-06","s":"kraft","v":31},{"t":"2007-07","s":"kraft","v":34},{"t":"2007-08","s":"kraft","v":30},{"t":"2007-09","s":"kraft","v":32},{"t":"2007-10","s":"kraft","v":28},{"t":"2007-11","s":"kraft","v":31},{"t":"2007-12","s":"kraft","v":33},
{"t":"2008-01","s":"kraft","v":29},{"t":"2008-02","s":"kraft","v":32},{"t":"2008-03","s":"kraft","v":30},{"t":"2008-04","s":"kraft","v":28},{"t":"2008-05","s":"kraft","v":31},{"t":"2008-06","s":"kraft","v":29},{"t":"2008-07","s":"kraft","v":33},{"t":"2008-08","s":"kraft","v":30},{"t":"2008-09","s":"kraft","v":28},{"t":"2008-10","s":"kraft","v":27},{"t":"2008-11","s":"kraft","v":25},{"t":"2008-12","s":"kraft","v":24},
{"t":"2009-01","s":"kraft","v":22},{"t":"2009-02","s":"kraft","v":21},{"t":"2009-03","s":"kraft","v":22},{"t":"2009-04","s":"kraft","v":23},{"t":"2009-05","s":"kraft","v":25},{"t":"2009-06","s":"kraft","v":24},{"t":"2009-07","s":"kraft","v":26},{"t":"2009-08","s":"kraft","v":25},{"t":"2009-09","s":"kraft","v":27},{"t":"2009-10","s":"kraft","v":26},{"t":"2009-11","s":"kraft","v":28},{"t":"2009-12","s":"kraft","v":27},
{"t":"2010-01","s":"kraft","v":29},{"t":"2010-02","s":"kraft","v":28},{"t":"2010-03","s":"kraft","v":30},{"t":"2010-04","s":"kraft","v":29},{"t":"2010-05","s":"kraft","v":27},{"t":"2010-06","s":"kraft","v":31},{"t":"2010-07","s":"kraft","v":33},{"t":"2010-08","s":"kraft","v":29},{"t":"2010-09","s":"kraft","v":32},{"t":"2010-10","s":"kraft","v":30},{"t":"2010-11","s":"kraft","v":28},{"t":"2010-12","s":"kraft","v":31},
{"t":"2011-01","s":"kraft","v":29},{"t":"2011-02","s":"kraft","v":33},{"t":"2011-03","s":"kraft","v":30},{"t":"2011-04","s":"kraft","v":32},{"t":"2011-05","s":"kraft","v":29},{"t":"2011-06","s":"kraft","v":34},{"t":"2011-07","s":"kraft","v":31},{"t":"2011-08","s":"kraft","v":30},{"t":"2011-09","s":"kraft","v":33},{"t":"2011-10","s":"kraft","v":29},{"t":"2011-11","s":"kraft","v":32},{"t":"2011-12","s":"kraft","v":30},
{"t":"2012-01","s":"kraft","v":35},{"t":"2012-02","s":"kraft","v":31},{"t":"2012-03","s":"kraft","v":33},{"t":"2012-04","s":"kraft","v":30},{"t":"2012-05","s":"kraft","v":29},{"t":"2012-06","s":"kraft","v":32},{"t":"2012-07","s":"kraft","v":34},{"t":"2012-08","s":"kraft","v":30},{"t":"2012-09","s":"kraft","v":33},{"t":"2012-10","s":"kraft","v":31},{"t":"2012-11","s":"kraft","v":35},{"t":"2012-12","s":"kraft","v":32},
{"t":"2013-01","s":"kraft","v":30},{"t":"2013-02","s":"kraft","v":36},{"t":"2013-03","s":"kraft","v":33},{"t":"2013-04","s":"kraft","v":31},{"t":"2013-05","s":"kraft","v":34},{"t":"2013-06","s":"kraft","v":32},{"t":"2013-07","s":"kraft","v":30},{"t":"2013-08","s":"kraft","v":33},{"t":"2013-09","s":"kraft","v":31},
{"t":"2007-01","s":"other2","v":24},{"t":"2007-02","s":"other2","v":22},{"t":"2007-03","s":"other2","v":25},{"t":"2007-04","s":"other2","v":23},{"t":"2007-05","s":"other2","v":26},{"t":"2007-06","s":"other2","v":24},{"t":"2007-07","s":"other2","v":22},{"t":"2007-08","s":"other2","v":25},{"t":"2007-09","s":"other2","v":23},{"t":"2007-10","s":"other2","v":24},{"t":"2007-11","s":"other2","v":26},{"t":"2007-12","s":"other2","v":23},
{"t":"2008-01","s":"other2","v":25},{"t":"2008-02","s":"other2","v":22},{"t":"2008-03","s":"other2","v":24},{"t":"2008-04","s":"other2","v":26},{"t":"2008-05","s":"other2","v":23},{"t":"2008-06","s":"other2","v":25},{"t":"2008-07","s":"other2","v":24},{"t":"2008-08","s":"other2","v":22},{"t":"2008-09","s":"other2","v":23},{"t":"2008-10","s":"other2","v":21},{"t":"2008-11","s":"other2","v":20},{"t":"2008-12","s":"other2","v":19},
{"t":"2009-01","s":"other2","v":18},{"t":"2009-02","s":"other2","v":17},{"t":"2009-03","s":"other2","v":18},{"t":"2009-04","s":"other2","v":19},{"t":"2009-05","s":"other2","v":20},{"t":"2009-06","s":"other2","v":21},{"t":"2009-07","s":"other2","v":20},{"t":"2009-08","s":"other2","v":22},{"t":"2009-09","s":"other2","v":23},{"t":"2009-10","s":"other2","v":24},{"t":"2009-11","s":"other2","v":25},{"t":"2009-12","s":"other2","v":24},
{"t":"2010-01","s":"other2","v":26},{"t":"2010-02","s":"other2","v":25},{"t":"2010-03","s":"other2","v":27},{"t":"2010-04","s":"other2","v":30},{"t":"2010-05","s":"other2","v":26},{"t":"2010-06","s":"other2","v":28},{"t":"2010-07","s":"other2","v":27},{"t":"2010-08","s":"other2","v":26},{"t":"2010-09","s":"other2","v":29},{"t":"2010-10","s":"other2","v":27},{"t":"2010-11","s":"other2","v":25},{"t":"2010-12","s":"other2","v":28},
{"t":"2011-01","s":"other2","v":26},{"t":"2011-02","s":"other2","v":29},{"t":"2011-03","s":"other2","v":27},{"t":"2011-04","s":"other2","v":26},{"t":"2011-05","s":"other2","v":28},{"t":"2011-06","s":"other2","v":30},{"t":"2011-07","s":"other2","v":27},{"t":"2011-08","s":"other2","v":29},{"t":"2011-09","s":"other2","v":26},{"t":"2011-10","s":"other2","v":28},{"t":"2011-11","s":"other2","v":27},{"t":"2011-12","s":"other2","v":29},
{"t":"2012-01","s":"other2","v":26},{"t":"2012-02","s":"other2","v":28},{"t":"2012-03","s":"other2","v":30},{"t":"2012-04","s":"other2","v":27},{"t":"2012-05","s":"other2","v":29},{"t":"2012-06","s":"other2","v":28},{"t":"2012-07","s":"other2","v":26},{"t":"2012-08","s":"other2","v":30},{"t":"2012-09","s":"other2","v":28},{"t":"2012-10","s":"other2","v":27},{"t":"2012-11","s":"other2","v":29},{"t":"2012-12","s":"other2","v":31},
{"t":"2013-01","s":"other2","v":28},{"t":"2013-02","s":"other2","v":26},{"t":"2013-03","s":"other2","v":29},{"t":"2013-04","s":"other2","v":27},{"t":"2013-05","s":"other2","v":30},{"t":"2013-06","s":"other2","v":28},{"t":"2013-07","s":"other2","v":32},{"t":"2013-08","s":"other2","v":29},{"t":"2013-09","s":"other2","v":28}
]
}
}
